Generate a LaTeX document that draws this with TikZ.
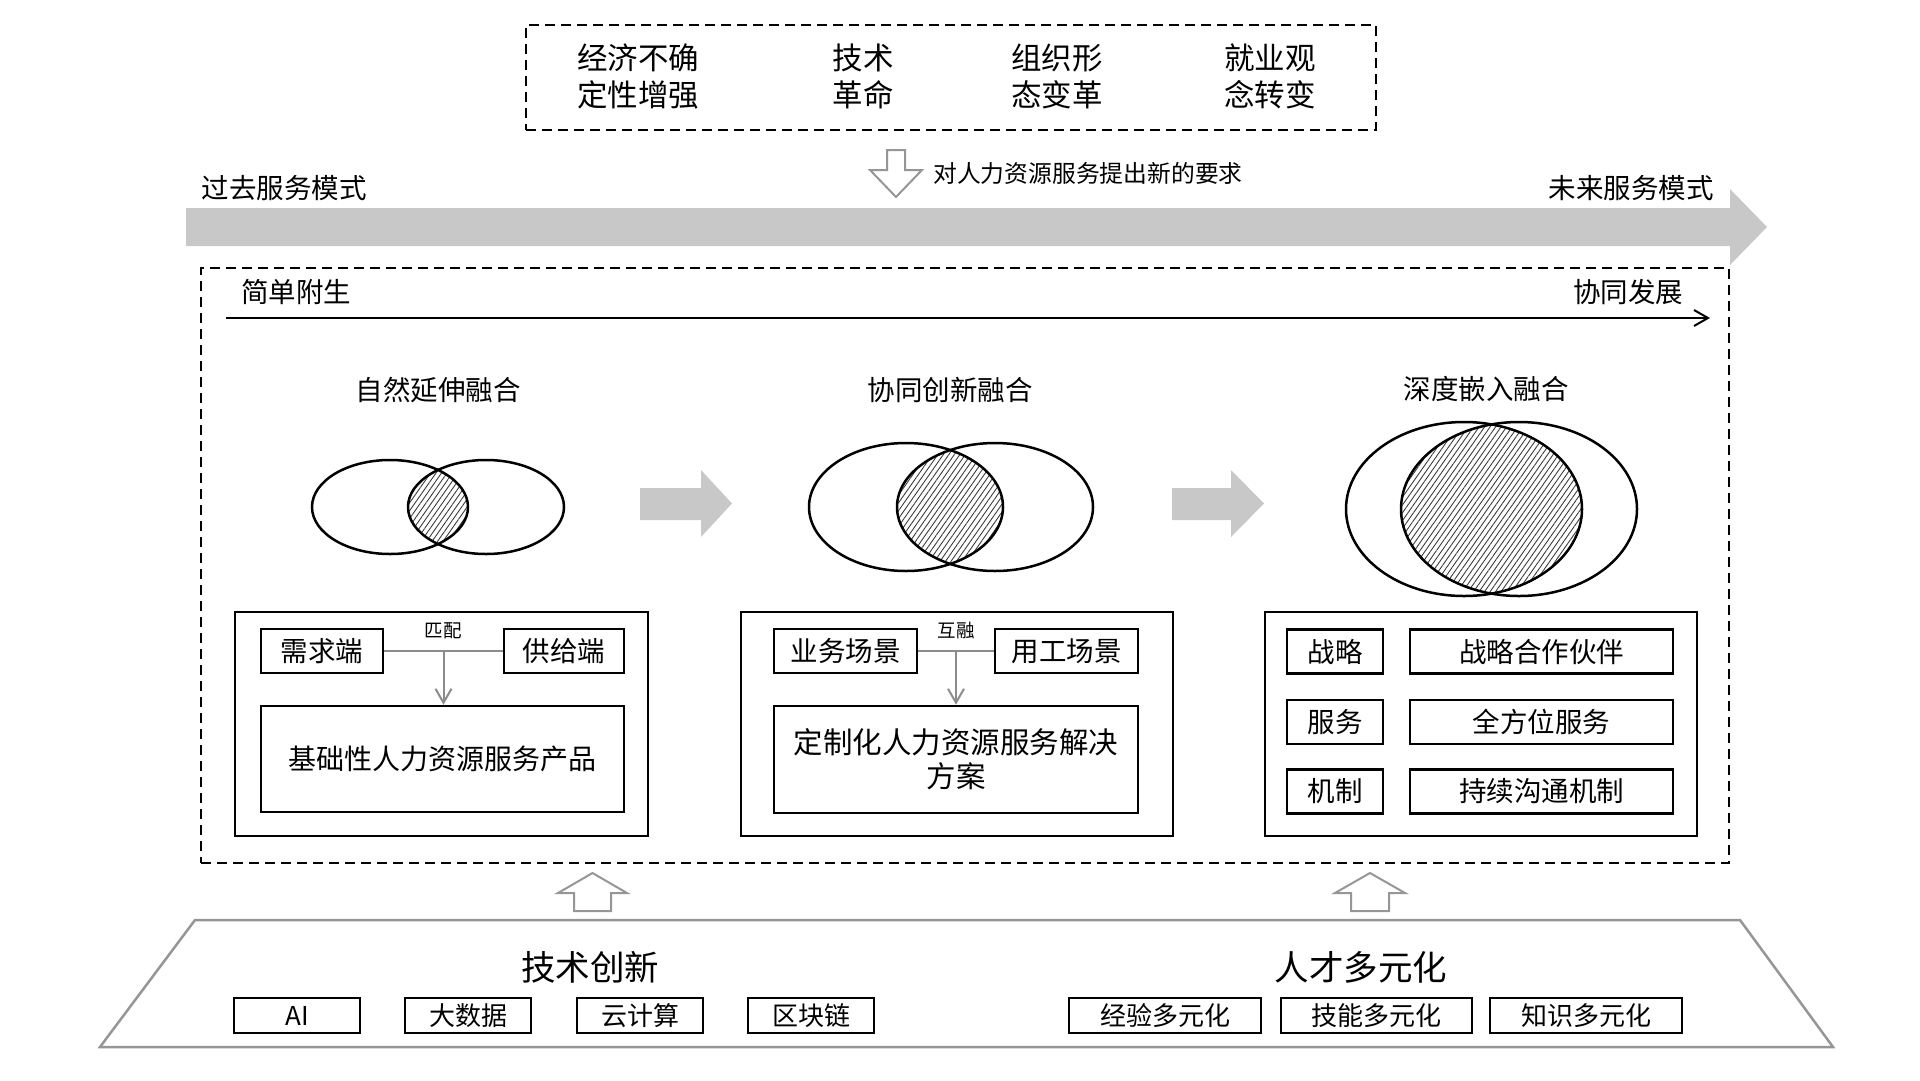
\documentclass[tikz,border=0pt]{standalone}
\usepackage{fontspec}
\setmainfont{Noto Sans CJK SC}
\usetikzlibrary{arrows.meta,patterns.meta,calc}
\definecolor{arrowgray}{RGB}{200,200,200}
\definecolor{linegray}{RGB}{140,140,140}
\definecolor{outgray}{RGB}{150,150,150}
\definecolor{hatchc}{RGB}{60,60,60}
\begin{document}
\begin{tikzpicture}[x=1pt,y=-1pt,
  box/.style={draw=black,line width=2.5pt,inner sep=0pt,align=center},
  dbox/.style={draw=black,line width=2pt,dash pattern=on 10pt off 6pt,inner sep=0pt},
  lbl/.style={inner sep=0pt,align=center},
  f18/.style={font=\fontsize{18.5}{22}\selectfont},
  f24/.style={font=\fontsize{23.8}{28}\selectfont},
  f26/.style={font=\fontsize{26}{30}\selectfont},
  f27/.style={font=\fontsize{27.5}{32}\selectfont},
  f30/.style={font=\fontsize{30.5}{37}\selectfont},
  f34/.style={font=\fontsize{34.5}{40}\selectfont},
  ell/.style={draw=black,line width=2.5pt},
  hatch/.style={pattern={Lines[angle=55,distance=4.5pt,line width=0.9pt]},pattern color=hatchc},
  hollow/.style={draw=outgray,line width=2pt,fill=white,line join=miter},
  block/.style={fill=arrowgray,draw=none},
  conn/.style={draw=linegray,line width=2.5pt},
  connarrow/.style={draw=linegray,line width=2pt,-{Straight Barb[length=14pt,width=16pt]}}
]
\useasboundingbox (0,0) rectangle (1920,1080);

% ---------- top dashed box ----------
\node[dbox,minimum width=850pt,minimum height=105pt] (topbox) at (951,77.5) {};
\node[lbl,f30] (t1) at (638,76) {经济不确\\定性增强};
\node[lbl,f30] (t2) at (863,76) {技术\\革命};
\node[lbl,f30] (t3) at (1057,76) {组织形\\态变革};
\node[lbl,f30] (t4) at (1270,76) {就业观\\念转变};

% down hollow arrow
\draw[hollow] (887,150) -- (905,150) -- (905,170) -- (922,170) -- (896,197) -- (870,170) -- (887,170) -- cycle;
\node[lbl,f24,anchor=west] (req) at (933,173) {对人力资源服务提出新的要求};

% ---------- big gray arrow ----------
\fill[block] (186,208) -- (1730,208) -- (1730,189) -- (1767,227) -- (1730,265) -- (1730,246) -- (186,246) -- cycle;
\node[lbl,f27] (past) at (284,188) {过去服务模式};
\node[lbl,f27] (future) at (1631,188) {未来服务模式};

% ---------- middle dashed box ----------
\node[dbox,minimum width=1528pt,minimum height=595pt] (midbox) at (965,565.5) {};
\node[lbl,f27] (simple) at (296,292) {简单附生};
\node[lbl,f27] (coop) at (1628,292) {协同发展};
\coordinate (la) at (226,318);
\coordinate (lb) at (1710,318);
\draw[line width=2pt,-{Straight Barb[length=14pt,width=16pt]}] (la) -- (lb);

% section titles
\node[lbl,f27] (s1title) at (438,390) {自然延伸融合};
\node[lbl,f27] (s2title) at (950,390) {协同创新融合};
\node[lbl,f27] (s3title) at (1486,389) {深度嵌入融合};

% ---------- Venn 1 ----------
\begin{scope}
  \clip (390,507) ellipse [x radius=78pt,y radius=47pt];
  \fill[hatch] (486,507) ellipse [x radius=78pt,y radius=47pt];
\end{scope}
\draw[ell] (390,507) ellipse [x radius=78pt,y radius=47pt];
\draw[ell] (486,507) ellipse [x radius=78pt,y radius=47pt];

% ---------- Venn 2 ----------
\begin{scope}
  \clip (906,507) ellipse [x radius=97pt,y radius=64pt];
  \fill[hatch] (995,507) ellipse [x radius=98pt,y radius=64pt];
\end{scope}
\draw[ell] (906,507) ellipse [x radius=97pt,y radius=64pt];
\draw[ell] (995,507) ellipse [x radius=98pt,y radius=64pt];

% ---------- Venn 3 ----------
\begin{scope}
  \clip (1464,509) ellipse [x radius=118pt,y radius=87pt];
  \fill[hatch] (1519,509) ellipse [x radius=118pt,y radius=87pt];
\end{scope}
\draw[ell] (1464,509) ellipse [x radius=118pt,y radius=87pt];
\draw[ell] (1519,509) ellipse [x radius=118pt,y radius=87pt];

% gray block arrows
\fill[block] (640,488) -- (701,488) -- (701,470) -- (732,503.5) -- (701,537) -- (701,520) -- (640,520) -- cycle;
\fill[block] (1172,488) -- (1231,488) -- (1231,470) -- (1264,503.5) -- (1231,537) -- (1231,520) -- (1172,520) -- cycle;

% ---------- section 1 boxes ----------
\node[box,minimum width=413pt,minimum height=224pt] (o1) at (441.5,724) {};
\node[box,f27,minimum width=122pt,minimum height=44pt] (xq) at (322,651) {需求端};
\node[box,f27,minimum width=120pt,minimum height=44pt] (gj) at (564,651) {供给端};
\node[box,font=\fontsize{28}{32}\selectfont,minimum width=363pt,minimum height=106pt] (base) at (442.5,759) {基础性人力资源服务产品};
\draw[conn] (xq.east) -- (gj.west);
\coordinate (m1) at ($(xq.east)!0.5!(gj.west)$);
\draw[connarrow] (m1) -- (m1 |- base.north);
\node[lbl,f18] (pp) at (443,631) {匹配};

% ---------- section 2 boxes ----------
\node[box,minimum width=432pt,minimum height=224pt] (o2) at (957,724) {};
\node[box,f27,minimum width=143pt,minimum height=44pt] (yw) at (845.5,651) {业务场景};
\node[box,f27,minimum width=143pt,minimum height=44pt] (yg) at (1066.5,651) {用工场景};
\node[box,font=\fontsize{29.5}{34}\selectfont,minimum width=364pt,minimum height=107pt] (sol) at (956,759.5) {定制化人力资源服务解决\\方案};
\draw[conn] (yw.east) -- (yg.west);
\coordinate (m2) at ($(yw.east)!0.5!(yg.west)$);
\draw[connarrow] (m2) -- (m2 |- sol.north);
\node[lbl,f18] (hr) at (956,631) {互融};

% ---------- section 3 boxes ----------
\node[box,minimum width=432pt,minimum height=224pt] (o3) at (1481,724) {};
\node[box,f27,minimum width=96pt,minimum height=44pt] (a1) at (1335,651.5) {战略};
\node[box,f27,minimum width=96pt,minimum height=44pt] (a2) at (1335,722) {服务};
\node[box,f27,minimum width=96pt,minimum height=44pt] (a3) at (1335,791.5) {机制};
\node[box,f27,minimum width=263pt,minimum height=44pt] (b1) at (1541.5,651.5) {战略合作伙伴};
\node[box,f27,minimum width=263pt,minimum height=44pt] (b2) at (1541.5,722) {全方位服务};
\node[box,f27,minimum width=263pt,minimum height=44pt] (b3) at (1541.5,791.5) {持续沟通机制};

% ---------- up hollow arrows ----------
\draw[hollow] (574,911) -- (574,893) -- (558,893) -- (592.5,873) -- (627,893) -- (611,893) -- (611,911) -- cycle;
\draw[hollow] (1351,911) -- (1351,893) -- (1335,893) -- (1370,873) -- (1405,893) -- (1389,893) -- (1389,911) -- cycle;

% ---------- bottom trapezoid ----------
\draw[draw=outgray,line width=2.5pt,line join=miter] (195,920) -- (1740,920) -- (1833,1047) -- (100,1047) -- cycle;
\node[lbl,f34] (tech) at (590,967) {技术创新};
\node[lbl,f34] (talent) at (1361,967) {人才多元化};

\node[box,f26,minimum width=126pt,minimum height=35pt] (ai) at (297,1015.5) {AI};
\node[box,f26,minimum width=126pt,minimum height=35pt] (bd) at (468,1015.5) {大数据};
\node[box,f26,minimum width=126pt,minimum height=35pt] (cc) at (640,1015.5) {云计算};
\node[box,f26,minimum width=126pt,minimum height=35pt] (bc) at (811,1015.5) {区块链};
\node[box,f26,minimum width=192pt,minimum height=35pt] (jy) at (1165,1015.5) {经验多元化};
\node[box,f26,minimum width=191pt,minimum height=35pt] (jn) at (1376.5,1015.5) {技能多元化};
\node[box,f26,minimum width=192pt,minimum height=35pt] (zs) at (1586,1015.5) {知识多元化};
\end{tikzpicture}
\end{document}
